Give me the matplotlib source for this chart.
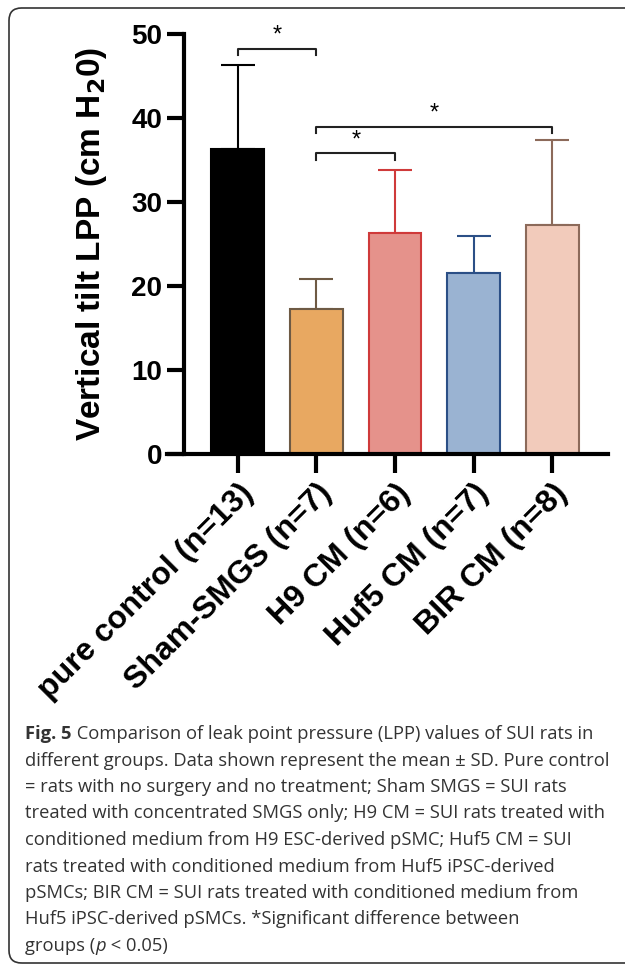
import matplotlib.pyplot as plt
import numpy as np
from matplotlib.patches import FancyBboxPatch

groups = ["pure control (n=13)", "Sham-SMGS (n=7)", "H9 CM (n=6)", "Huf5 CM (n=7)", "BIR CM (n=8)"]
means = [36.3, 17.3, 26.3, 21.6, 27.3]
sds = [10.0, 3.5, 7.5, 4.4, 10.1]
fills = ["#000000", "#E8A861", "#E5928B", "#9AB3D2", "#F2CBBB"]
edges = ["#000000", "#6E5A44", "#CF3A3A", "#2B4F86", "#8C6A5A"]

# significance brackets: (left group, right group, height)
brackets = [(0, 1, 48.3), (1, 2, 35.8), (1, 4, 39.0)]

caption = [
    "different groups. Data shown represent the mean \u00b1 SD. Pure control",
    "= rats with no surgery and no treatment; Sham SMGS = SUI rats",
    "treated with concentrated SMGS only; H9 CM = SUI rats treated with",
    "conditioned medium from H9 ESC-derived pSMC; Huf5 CM = SUI",
    "rats treated with conditioned medium from Huf5 iPSC-derived",
    "pSMCs; BIR CM = SUI rats treated with conditioned medium from",
    "Huf5 iPSC-derived pSMCs. *Significant difference between",
]

W, H = 625, 966
fig = plt.figure(figsize=(W / 100, H / 100), dpi=100)
plt.rcParams["font.family"] = ["Liberation Sans", "DejaVu Sans"]

# rounded frame around the figure + caption
frame = FancyBboxPatch((9 / W, 1 - 963 / H), 700 / W, 955 / H,
                       boxstyle="round,pad=0,rounding_size=0.02",
                       transform=fig.transFigure, fill=False,
                       edgecolor="#333333", linewidth=1.2, mutation_aspect=W / H)
fig.patches.append(frame)

ax = fig.add_axes((167 / W, 1 - 454 / H, 441 / W, 419.7 / H))
x = np.arange(len(groups))
ax.bar(x, means, width=0.675, color=fills, edgecolor=edges, linewidth=1.5, zorder=2)
for xi, m, s, c in zip(x, means, sds, edges):
    ax.errorbar(xi, m, yerr=[[0], [s]], color=c, elinewidth=1.5, capsize=12,
                capthick=1.5, zorder=1)

for a, b, h in brackets:
    ax.plot([a, a, b, b], [h - 0.75, h, h, h - 0.75], color="#222222", lw=1.5,
            clip_on=False)
    ax.text((a + b) / 2, h + 0.2, "*", ha="center", va="bottom", fontsize=17,
            clip_on=False)

ax.set_xlim(-0.904, 4.713)
ax.set_ylim(0, 50)
ax.set_yticks([0, 10, 20, 30, 40, 50])
ax.set_xticks(x)
ax.set_xticklabels(groups, rotation=45, ha="right", rotation_mode="anchor",
                   fontsize=23, fontweight="bold")

for side in ["top", "right"]:
    ax.spines[side].set_visible(False)
ax.spines["left"].set_position(("data", -0.688))
ax.spines["left"].set_linewidth(3)
ax.spines["bottom"].set_linewidth(3)
ax.tick_params(axis="y", length=12.5, width=3, pad=3, labelsize=20)
ax.tick_params(axis="x", length=13.5, width=3, pad=4)
plt.setp(ax.get_yticklabels(), fontweight="bold")

fig.text(92 / W, 1 - 244 / H, "Vertical tilt LPP (cm H$_\\mathbf{2}$0)", rotation=90,
         ha="center", va="center", fontsize=24, fontweight="bold")

# caption
cap_kw = dict(fontsize=13.2, color="#333333", family=["Open Sans", "DejaVu Sans"])
y0 = 1 - 739 / H
step = 26.5 / H
t = fig.text(25 / W, y0, "Fig. 5", fontweight="bold", va="baseline", **cap_kw)
ax.annotate(" Comparison of leak point pressure (LPP) values of SUI rats in",
            xy=(1, 0), xycoords=t, va="bottom", ha="left", **cap_kw)
for i, line in enumerate(caption):
    fig.text(25 / W, y0 - (i + 1) * step, line, va="baseline", **cap_kw)
g = fig.text(25 / W, y0 - 8 * step, "groups (", va="baseline", **cap_kw)
p = ax.annotate("p", xy=(1, 0), xycoords=g, va="bottom", ha="left",
                style="italic", **cap_kw)
ax.annotate(" < 0.05)", xy=(1, 0), xycoords=p, va="bottom", ha="left", **cap_kw)

fig.savefig("out.png", dpi=100)
